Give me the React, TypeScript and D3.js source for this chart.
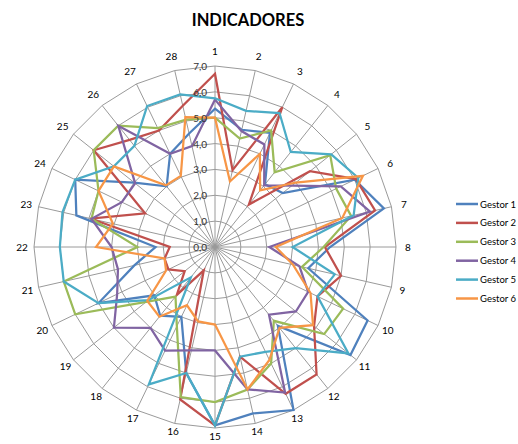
import React from "react";
import * as d3 from "d3";

const categories = ["1","2","3","4","5","6","7","8","9","10","11","12","13","14","15","16","17","18","19","20","21","22","23","24","25","26","27","28"];
const seriesNames = ["Gestor 1", "Gestor 2", "Gestor 3", "Gestor 4", "Gestor 5", "Gestor 6"];
const gestor1 = [5.35,4.65,4.9,3.1,3.35,6.0,6.7,4.45,3.7,6.55,6.7,3.9,7.0,6.6,6.9,5.0,3.0,3.4,3.0,5.0,3.2,2.3,5.5,6.0,4.0,3.0,4.0,4.5];
const gestor2 = [6.7,3.05,6.0,2.1,4.7,6.05,6.35,4.25,5.0,4.4,4.9,6.3,6.3,4.35,6.9,6.05,1.0,2.37,1.5,2.0,2.0,1.75,4.95,3.0,6.0,5.3,5.0,5.6];
const gestor3 = [5.0,4.3,5.0,3.7,5.7,5.2,5.4,4.2,3.45,5.5,5.4,3.65,5.0,5.65,6.0,5.95,3.4,2.45,3.4,6.0,6.0,3.0,4.9,5.0,6.0,6.0,5.1,5.05];
const gestor4 = [5.7,4.6,4.4,3.05,3.8,5.4,6.15,2.1,3.35,4.0,4.0,3.35,6.25,5.65,4.0,4.1,4.45,4.0,5.0,4.2,3.85,4.0,4.9,4.0,3.95,6.0,4.0,4.0];
const gestor5 = [5.75,5.4,5.75,4.7,5.75,6.15,5.5,3.0,4.75,4.4,6.6,5.0,4.5,4.35,6.9,5.0,5.9,1.5,3.3,5.0,6.0,6.0,6.05,6.0,5.0,5.0,6.05,6.05];
const gestor6 = [5.0,2.6,4.0,2.8,4.0,6.35,5.05,2.35,3.1,4.1,4.85,4.0,4.85,5.65,3.0,2.95,2.5,3.45,3.35,2.1,2.0,4.6,4.05,5.0,5.0,3.05,3.05,5.15];
const tickValues = [0,1,2,3,4,5,6,7];
const tickLabels = ["0,0","1,0","2,0","3,0","4,0","5,0","6,0","7,0"];
const colors = ["#4F81BD", "#C0504D", "#9BBB59", "#8064A2", "#4BACC6", "#F79646"];

const allSeries = [gestor1, gestor2, gestor3, gestor4, gestor5, gestor6];

export default function App() {
  const W = 518, H = 444;
  const cx = 215, cy = 247;
  const r = d3.scaleLinear().domain([0, 7]).range([0, 181]);
  const n = categories.length;
  const angle = d3.scalePoint<string>().domain(categories).range([0, 2 * Math.PI * (n - 1) / n]);
  const pt = (c: string, v: number): [number, number] => {
    const a = angle(c)!;
    return [r(v) * Math.sin(a), -r(v) * Math.cos(a)];
  };
  const line = d3.lineRadial<number>()
    .angle((_, i) => angle(categories[i])!)
    .radius((d) => r(d))
    .curve(d3.curveLinearClosed);
  const font = "Lato, 'Open Sans', sans-serif";

  return (
    <svg width={W} height={H} style={{ position: "absolute", left: 0, top: 0, background: "#fff" }} fontFamily={font}>
      <text x={248} y={26} textAnchor="middle" fontSize={16.5} fontWeight="bold" fill="#000">INDICADORES</text>
      <g transform={`translate(${cx},${cy})`}>
        {tickValues.slice(1).map((t) => (
          <path key={"ring" + t}
            d={d3.line()(categories.map((c) => pt(c, t))) + "Z"}
            fill="none" stroke="#9a9a9a" strokeWidth={1} />
        ))}
        {categories.map((c) => {
          const [x, y] = pt(c, 7);
          return <line key={"sp" + c} x1={0} y1={0} x2={x} y2={y} stroke="#9a9a9a" strokeWidth={1} />;
        })}
        {allSeries.map((s, i) => (
          <path key={"s" + i} d={line(s) || ""} fill="none" stroke={colors[i]} strokeWidth={2.25} strokeLinejoin="miter" />
        ))}
        {tickValues.map((t, i) => (
          <text key={"tk" + t} x={-8} y={-r(t)} textAnchor="end" dominantBaseline="central" fontSize={10} fill="#333">{tickLabels[i]}</text>
        ))}
        {categories.map((c) => {
          const a = angle(c)!;
          const rr = 193 + 3 * Math.cos(a) - (Math.cos(a) < -0.9 ? 1 : 0);
          return (
            <text key={"lb" + c} x={rr * Math.sin(a)} y={-rr * Math.cos(a)} textAnchor="middle" dominantBaseline="central" fontSize={10} fill="#000">{c}</text>
          );
        })}
      </g>
      <g>
        {seriesNames.map((s, i) => (
          <g key={"lg" + i} transform={`translate(456,${204 + i * 18.9})`}>
            <line x1={0} x2={22} y1={0} y2={0} stroke={colors[i]} strokeWidth={2.5} />
            <text x={24} y={0} dominantBaseline="central" fontSize={9.5} fill="#000">{s}</text>
          </g>
        ))}
      </g>
    </svg>
  );
}
